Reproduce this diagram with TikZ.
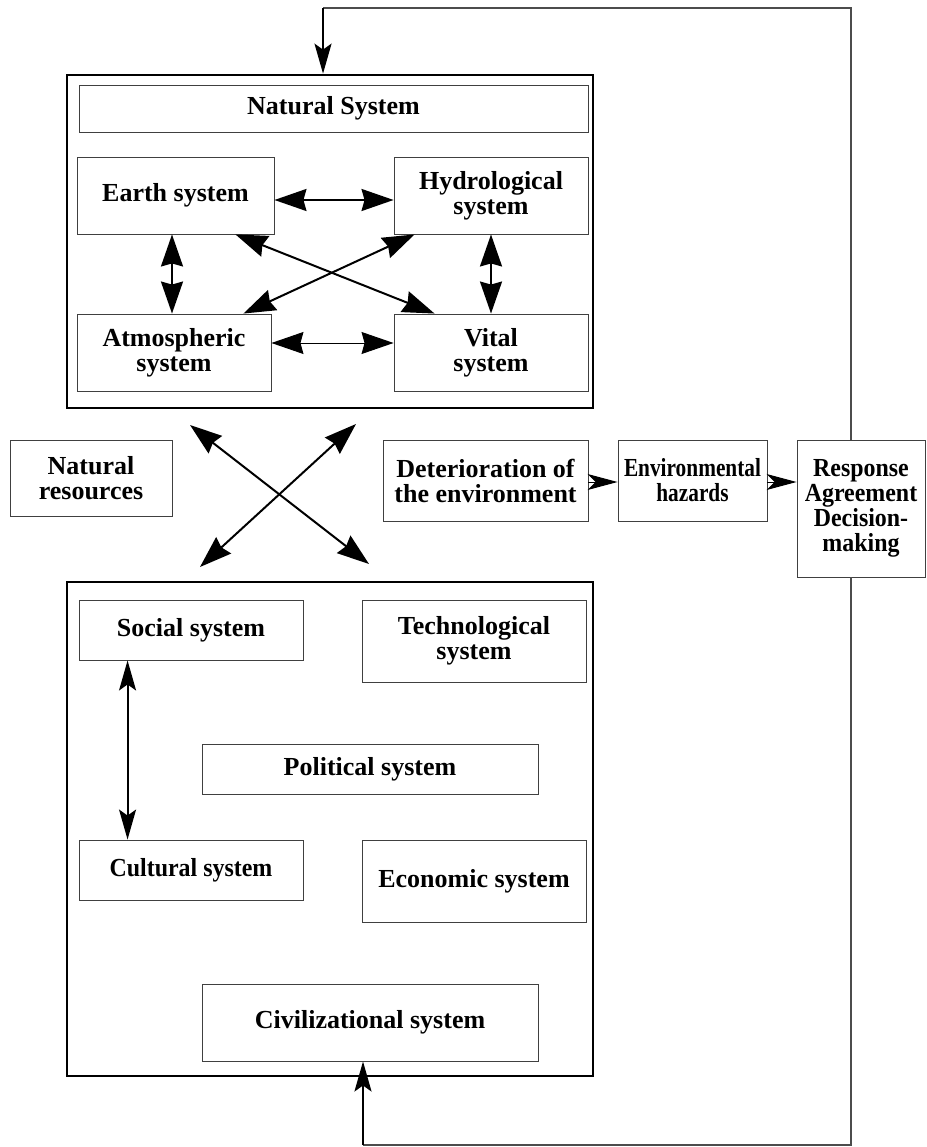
\documentclass[tikz,border=0pt]{standalone}
\usepackage{fontspec}
\setmainfont{Liberation Serif}
\newfontfamily\narrowfont[FakeStretch=0.82]{Liberation Serif}
\newfontfamily\slimfont[FakeStretch=0.92]{Liberation Serif}
\usetikzlibrary{arrows.meta}

\newcommand{\boxfont}{\bfseries\fontsize{26pt}{25pt}\selectfont}

\tikzset{
  sysbox/.style 2 args={draw=black!75, line width=0.9pt, minimum width=#1pt,
    minimum height=#2pt, inner sep=0pt, align=center, font=\boxfont},
  frame/.style 2 args={draw, line width=2.7pt, minimum width=#1pt,
    minimum height=#2pt, inner sep=0pt},
  BigHead/.tip={Stealth[length=32pt,width=22pt,inset=3pt]},
  ChainHead/.tip={Stealth[length=30pt,width=16pt,inset=8pt]},
  SlimHead/.tip={Stealth[length=30pt,width=17pt,inset=6pt]},
  link/.style={line width=2pt},
  feedback/.style={draw=black!70, line width=1.2pt}
}

\begin{document}
\begin{tikzpicture}[x=1pt, y=-1pt]
  \useasboundingbox (0,0) rectangle (926,1147);
  % Define nodes
  \node[frame={526}{333}] (natural) at (330,241.5) {};
  \node[sysbox={509}{47}] (natsys) at (333.5,108.5) {Natural System};
  \node[sysbox={197}{77}] (earth) at (175.5,195.5) {Earth system};
  \node[sysbox={194}{77}] (hydro) at (491,195.5) {Hydrological\\system};
  \node[sysbox={194}{77}] (atmos) at (174,352.5) {Atmospheric\\system};
  \node[sysbox={194}{77}] (vital) at (491,352.5) {Vital\\system};

  \node[sysbox={162}{76}] (natres) at (91,478) {Natural\\resources};
  \node[sysbox={205}{81}] (deter) at (485.5,480.5) {Deterioration of\\the environment};
  \node[sysbox={149}{81}, font=\narrowfont\boxfont] (hazard) at (692.5,480.5) {Environmental\\hazards};
  \node[sysbox={128}{137}, font=\slimfont\boxfont] (response) at (861,508.5) {Response\\Agreement\\Decision-\\making};

  \node[frame={526}{494}] (civil) at (330,829) {};
  \node[sysbox={224}{60}] (social) at (191,630) {Social system};
  \node[sysbox={224}{82}] (techno) at (474,641) {Technological\\system};
  \node[sysbox={336}{50}] (political) at (370,769) {Political system};
  \node[sysbox={224}{60}, font=\slimfont\boxfont] (cultural) at (191,870) {Cultural system};
  \node[sysbox={224}{82}] (economic) at (474,881) {Economic system};
  \node[sysbox={336}{77}] (civilization) at (370,1022.5) {Civilizational system};

  \coordinate (fb) at (851,8);
  \coordinate (drop) at (323,8);
  \coordinate (rise) at (363,1145);
  \coordinate (xnw) at (190,425);
  \coordinate (xse) at (369,564);
  \coordinate (xne) at (356,424);
  \coordinate (xsw) at (200,567);

  % Connect nodes
  \draw[link, BigHead-BigHead] ([yshift=-4.5pt]earth.east) -- ([yshift=-4.5pt]hydro.west);
  \draw[line width=1pt, BigHead-BigHead] ([yshift=9.5pt]atmos.east) -- ([yshift=9.5pt]atmos.east -| vital.west);
  \draw[link, BigHead-BigHead] ([xshift=-3.5pt]earth.south) -- ([xshift=-3.5pt]earth.south |- atmos.north);
  \draw[link, BigHead-BigHead] (hydro.south) -- (vital.north);
  \draw[link, BigHead-BigHead] ([xshift=-39pt]earth.south east) -- ([xshift=41pt]vital.north west);
  \draw[link, BigHead-BigHead] ([xshift=21pt]hydro.south west) -- ([xshift=-28pt]atmos.north east);
  \draw[link, BigHead-BigHead] (xnw) -- (xse);
  \draw[link, BigHead-BigHead] (xne) -- (xsw);

  \draw[line width=1pt, -ChainHead] ([yshift=-1.5pt]deter.east) -- ([yshift=-1.5pt]hazard.west);
  \draw[line width=1pt, -ChainHead] ([yshift=-1.5pt]hazard.east) -- ([yshift=-1.5pt]hazard.east -| response.west);

  \draw[link, SlimHead-SlimHead] ([xshift=49pt]social.south west) -- ([xshift=49pt]cultural.north west);

  \draw[feedback] (response.north -| fb) -- (fb) -- (drop);
  \draw[link, -SlimHead] (drop) -- (drop |- natural.north);
  \draw[feedback] (response.south -| fb) -- (fb |- rise) -- (rise);
  \draw[line width=2.6pt, -SlimHead] (rise) -- (rise |- civilization.south);
\end{tikzpicture}
\end{document}
